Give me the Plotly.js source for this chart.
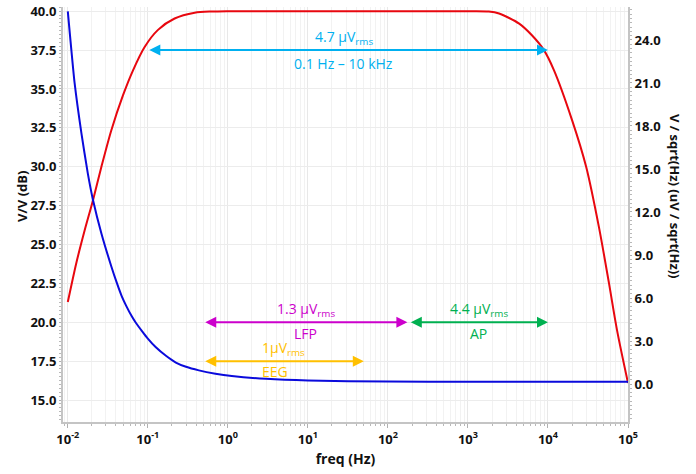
<!DOCTYPE html>
<html><head><meta charset="utf-8">
<script src="https://cdn.plot.ly/plotly-3.0.1.min.js"></script>
<style>html,body{margin:0;padding:0;background:#fff}#chart{width:696px;height:474px}</style>
</head><body><div id="chart"></div>
<script>
// Gain (left axis, dB)
const gainFreq = [0.01, 0.01276, 0.01622, 0.02065, 0.0263, 0.035, 0.049, 0.0653, 0.0912, 0.134, 0.216, 0.385, 0.63, 1, 10, 100, 1000, 1820, 2450, 4370, 6300, 8900, 11900, 20000, 30000, 43400, 57900, 72900, 100000];
const gainDb = [21.3, 23.8, 25.9, 27.85, 30.0, 32.35, 34.6, 36.2, 37.7, 38.8, 39.53, 39.9, 39.98, 40.0, 40.0, 40.0, 40.0, 39.98, 39.85, 39.2, 38.45, 37.5, 36.2, 33.0, 30.0, 26.1, 22.5, 19.5, 16.1];
// Noise density (right axis, uV/sqrt(Hz))
const noiseFreq = [0.01, 0.01216, 0.01479, 0.01778, 0.02065, 0.0263, 0.035, 0.041, 0.047, 0.0537, 0.063, 0.0708, 0.085, 0.1, 0.126, 0.17, 0.224, 0.3, 0.434, 0.7, 1.12, 3, 10, 100, 1000, 100000];
const noiseDensity = [26.0, 21.0, 17.5, 14.7, 12.84, 10.5, 8.2, 7.05, 6.15, 5.45, 4.72, 4.27, 3.67, 3.17, 2.56, 1.95, 1.5, 1.2, 0.95, 0.72, 0.56, 0.36, 0.24, 0.17, 0.16, 0.16];
// X tick labels
const xTickVals = [0.01, 0.1, 1, 10, 100, 1000, 10000, 100000];
const xTickText = ['10<sup>-2</sup>', '10<sup>-1</sup>', '10<sup>0</sup>', '10<sup>1</sup>', '10<sup>2</sup>', '10<sup>3</sup>', '10<sup>4</sup>', '10<sup>5</sup>'];
// Frequency bands (annotated arrows)
const bandLow = [0.1, 0.5, 185, 0.5];
const bandHigh = [10000, 175, 10000, 50];
const bandLevel = [37.5, 20.0, 20.0, 17.5];
const bandNoise = ['4.7 μV<sub>rms</sub>', '1.3 μV<sub>rms</sub>', '4.4 μV<sub>rms</sub>', '1μV<sub>rms</sub>'];
const bandLabel = ['0.1 Hz – 10 kHz', 'LFP', 'AP', 'EEG'];

const bandColor = ['#00B0F0', '#CC00CC', '#00B050', '#FFC000'];
const labelXShift = [-4, 0, 0, -9];
const labelYShift = [-13, -11, -11, -10];

const traces = [
  {x: gainFreq, y: gainDb, type: 'scatter', mode: 'lines', line: {color: '#E8070F', width: 2, shape: 'spline', smoothing: 0.8}, yaxis: 'y', hoverinfo: 'skip', showlegend: false},
  {x: noiseFreq, y: noiseDensity, type: 'scatter', mode: 'lines', line: {color: '#0A0ADC', width: 2, shape: 'spline', smoothing: 0.5}, yaxis: 'y2', hoverinfo: 'skip', showlegend: false}
];

const annFont = {family: 'Open Sans', size: 14};
const annotations = [];
for (let i = 0; i < bandLow.length; i++) {
  const lo = Math.log10(bandLow[i]), hi = Math.log10(bandHigh[i]);
  const mid = (lo + hi) / 2;
  annotations.push({x: hi, y: bandLevel[i], ax: lo, ay: bandLevel[i], xref: 'x', yref: 'y', axref: 'x', ayref: 'y',
    text: '', showarrow: true, arrowside: 'end+start', arrowhead: 2, startarrowhead: 2, arrowsize: 1.1, startarrowsize: 1.1,
    arrowwidth: 2, arrowcolor: bandColor[i], standoff: 0, startstandoff: 0});
  annotations.push({x: mid, y: bandLevel[i], xref: 'x', yref: 'y', text: bandNoise[i], showarrow: false,
    xanchor: 'center', yanchor: 'middle',
    yshift: 13, xshift: i === 0 ? -4 : 0, font: Object.assign({color: bandColor[i]}, annFont)});
  annotations.push({x: mid, y: bandLevel[i], xref: 'x', yref: 'y', text: bandLabel[i], showarrow: false,
    xanchor: 'center', yanchor: 'middle',
    yshift: labelYShift[i], xshift: labelXShift[i], font: Object.assign({color: bandColor[i]}, annFont)});
}
annotations.push({x: -0.0726, y: 0.5446, xref: 'paper', yref: 'paper', xanchor: 'center', yanchor: 'middle',
  text: 'V/V (dB)', textangle: -90, showarrow: false,
  font: {family: 'Open Sans', size: 13, weight: 'bold', color: '#111'}});
annotations.push({x: 1.0832, y: 0.5446, xref: 'paper', yref: 'paper', xanchor: 'center', yanchor: 'middle',
  text: 'V / sqrt(Hz) (uV / sqrt(Hz))', textangle: 90, showarrow: false,
  font: {family: 'Open Sans', size: 13, weight: 'bold', color: '#111'}});

const tickFont = {family: 'Open Sans', size: 13, weight: 'bold', color: '#111'};
const layout = {
  width: 696, height: 474,
  margin: {l: 63, r: 68, t: 7, b: 52},
  paper_bgcolor: '#fff', plot_bgcolor: '#fff',
  showlegend: false,
  xaxis: {
    type: 'log', range: [-2.06, 5.0], tickmode: 'array', tickvals: xTickVals, ticktext: xTickText,
    tickfont: tickFont, showline: true, linecolor: '#c4c4c4', linewidth: 2, mirror: false,
    ticks: 'outside', ticklen: 4, tickcolor: '#b0b0b0', showgrid: true, gridcolor: '#e8e8e8', gridwidth: 1,
    minor: {dtick: 'D1', showgrid: true, gridcolor: '#f2f2f2', ticks: 'outside', ticklen: 2, tickcolor: '#b8b8b8'},
    zeroline: false,
    title: {text: 'freq (Hz)', font: {family: 'Open Sans', size: 14, weight: 'bold', color: '#111'}, standoff: 8}
  },
  yaxis: {
    range: [13.59, 40.27], tick0: 15, dtick: 2.5, tickformat: '.1f', tickfont: tickFont,
    showline: true, linecolor: '#c4c4c4', linewidth: 2, ticks: 'outside', ticklen: 2, tickcolor: '#b0b0b0',
    minor: {dtick: 0.25, ticks: 'outside', ticklen: 2, tickcolor: '#b8b8b8', showgrid: false},
    showgrid: true, gridcolor: '#ececec', zeroline: false
  },
  yaxis2: {
    overlaying: 'y', side: 'right', range: [-2.65, 26.3], tick0: 0, dtick: 3, tickformat: '.1f', tickfont: tickFont,
    showline: true, linecolor: '#c4c4c4', linewidth: 2, ticks: 'outside', ticklen: 2, tickcolor: '#b0b0b0',
    minor: {dtick: 0.3, ticks: 'outside', ticklen: 2, tickcolor: '#b8b8b8', showgrid: false},
    showgrid: false, zeroline: false
  },
  annotations: annotations
};
Plotly.newPlot('chart', traces, layout, {staticPlot: true, displayModeBar: false});
</script>
</body></html>
